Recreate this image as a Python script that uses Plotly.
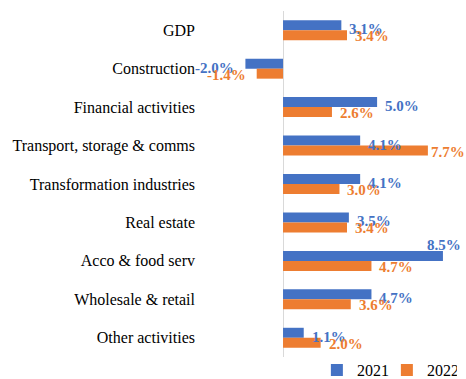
import plotly.graph_objects as go

# Sector growth rates (%), by year
sectors = [
    "GDP",
    "Construction",
    "Financial activities",
    "Transport, storage & comms",
    "Transformation industries",
    "Real estate",
    "Acco & food serv",
    "Wholesale & retail",
    "Other activities",
]
growth_2021 = [3.1, -2.0, 5.0, 4.1, 4.1, 3.5, 8.5, 4.7, 1.1]
growth_2022 = [3.4, -1.4, 2.6, 7.7, 3.0, 3.4, 4.7, 3.6, 2.0]
years = ["2021", "2022"]

BLUE = "#4472C4"
ORANGE = "#ED7D31"
SERIF = "Liberation Serif, Times New Roman, serif"

X_RANGE = [-4.52, 9.46]

fig = go.Figure()
for name, vals, color in [(years[0], growth_2021, BLUE), (years[1], growth_2022, ORANGE)]:
    fig.add_trace(go.Bar(
        name=name, y=sectors, x=vals, orientation="h",
        marker=dict(color=color, line=dict(width=0)),
        hoverinfo="x+y",
    ))

# Data labels beside each bar end; labels near the right edge are pulled
# in so they stay on the canvas, and the longest one sits above its bar.
annotations = []
for vals, color, dy in [(growth_2021, BLUE, 1), (growth_2022, ORANGE, -6)]:
    for cat, v in zip(sectors, vals):
        text = f"{v:.1f}%"
        if v > 7.9:
            ann = dict(xanchor="right", xshift=20, yshift=dy + 15)
        elif v > 7.0:
            ann = dict(xanchor="left", xshift=1, yshift=dy)
        elif v >= 0:
            ann = dict(xanchor="left", xshift=6, yshift=dy)
        else:
            ann = dict(xanchor="right", xshift=-9, yshift=dy)
        annotations.append(dict(
            x=v, y=cat, xref="x", yref="y", text=text, showarrow=False,
            font=dict(family=SERIF, size=15, color=color, weight="bold"),
            yanchor="middle", **ann,
        ))

fig.update_layout(
    width=466, height=379,
    margin=dict(l=198, r=5, t=11, b=22, autoexpand=False),
    paper_bgcolor="white", plot_bgcolor="white",
    barmode="group", bargap=0.48, bargroupgap=0,
    font=dict(family=SERIF, size=16, color="black"),
    xaxis=dict(
        range=X_RANGE, showticklabels=False, showgrid=False,
        zeroline=True, zerolinecolor="#d9d9d9", zerolinewidth=1,
        fixedrange=True,
    ),
    yaxis=dict(
        autorange="reversed", showgrid=False, zeroline=False,
        ticks="", ticklabelstandoff=2,
        tickfont=dict(family=SERIF, size=16, color="black"),
    ),
    legend=dict(
        orientation="h", x=0.452, xanchor="left",
        y=-0.038, yanchor="middle",
        font=dict(family=SERIF, size=16, color="black"),
        bgcolor="rgba(0,0,0,0)", itemwidth=30, tracegroupgap=0,
        entrywidth=25, entrywidthmode="pixels",
    ),
    annotations=annotations,
)

fig.write_html("out.html")
